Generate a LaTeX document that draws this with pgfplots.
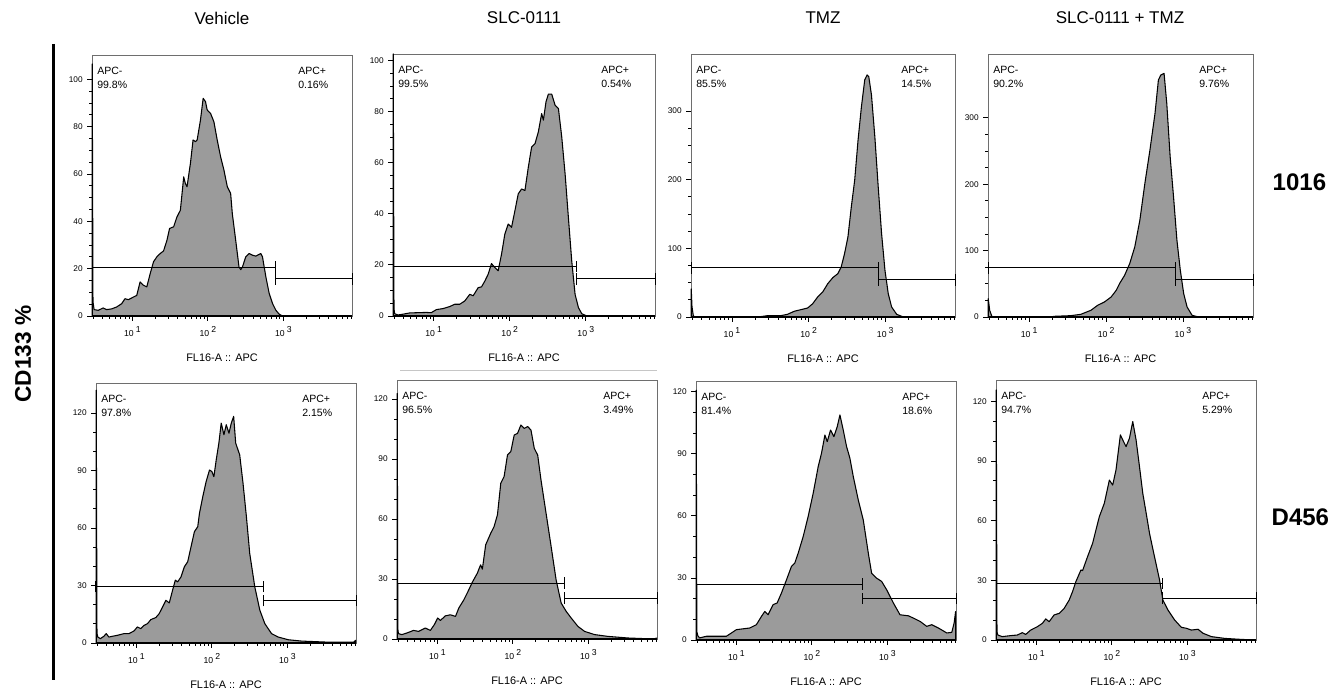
\documentclass[border=0pt]{standalone}
\usepackage{fontspec}
\setmainfont{Liberation Sans}
\usepackage{pgfplots}
\pgfplotsset{compat=1.18}

\definecolor{histfill}{RGB}{155,155,155}
\definecolor{framegray}{RGB}{110,110,110}

\newcommand\ytf{\fontsize{6.2}{7}\selectfont}
\newcommand\xtf{\fontsize{6.5}{7.5}\selectfont}
\newcommand\lab{\fontsize{7.9}{9}\selectfont}
\newcommand\xlf{\fontsize{8.2}{9}\selectfont}
\newcommand\ttl{\fontsize{12.75}{15}\selectfont}
\newcommand\xl[1]{10\hspace{1.6pt}\raisebox{2.8pt}{#1}}

% range gates: APC- level, gate position (log10), APC+ level
\newcommand{\gates}[3]{%
  \draw[line width=0.75pt] (axis cs:0.465,#1) -- (axis cs:#2,#1);
  \draw[line width=0.75pt] ([yshift=-4.3pt]axis cs:0.465,#1) -- ([yshift=4.3pt]axis cs:0.465,#1);
  \draw[line width=0.75pt] ([yshift=-4.3pt]axis cs:#2,#1) -- ([yshift=4.3pt]axis cs:#2,#1);
  \draw[line width=0.75pt] (axis cs:#2,#3) -- (axis cs:3.91,#3);
  \draw[line width=0.75pt] ([yshift=-4.3pt]axis cs:#2,#3) -- ([yshift=4.3pt]axis cs:#2,#3);
  \draw[line width=0.75pt] ([yshift=-4.3pt]axis cs:3.91,#3) -- ([yshift=4.3pt]axis cs:3.91,#3);
}
\newcommand{\apc}[2]{%
  \node[anchor=base west,font=\lab,inner sep=0pt,xshift=3.75pt,yshift=-14.5pt] at (rel axis cs:0,1) {APC-};
  \node[anchor=base west,font=\lab,inner sep=0pt,xshift=3.75pt,yshift=-25pt] at (rel axis cs:0,1) {#1};
  \node[anchor=base west,font=\lab,inner sep=0pt,xshift=-40.5pt,yshift=-14.5pt] at (rel axis cs:1,1) {APC+};
  \node[anchor=base west,font=\lab,inner sep=0pt,xshift=-40.5pt,yshift=-25pt] at (rel axis cs:1,1) {#2};
}

\pgfplotsset{
  flow/.style={
    scale only axis, anchor=south west, clip=false,
    xmin=0.465, xmax=3.91,
    xtick={1,2,3},
    xticklabels={\xl{1},\xl{2},\xl{3}},
    minor xtick={0.477,0.602,0.699,0.778,0.845,0.903,0.954,
      1.301,1.477,1.602,1.699,1.778,1.845,1.903,1.954,
      2.301,2.477,2.602,2.699,2.778,2.845,2.903,2.954,
      3.301,3.477,3.602,3.699,3.778,3.845,3.903},
    xtick pos=bottom, ytick pos=left,
    tick align=outside,
    major tick length=3.5pt, minor tick length=2pt,
    tick style={black, line width=0.6pt},
    axis line style={draw=framegray, line width=0.6pt},
    xticklabel style={font=\xtf, yshift=-1pt},
    yticklabel style={font=\ytf},
    /pgf/number format/assume math mode=true,
    xlabel={FL16-A :: APC},
    xlabel style={font=\xlf, at={(axis description cs:0.5,0)}, anchor=center, yshift=-31pt},
    after end axis/.code={\draw[black,line width=1pt] (rel axis cs:0,0) -- (rel axis cs:1,0);},
  },
  hist/.style={draw=black, line width=0.8pt, fill=histfill, line join=round},
  top/.style={ytick={0,20,...,100}, minor y tick num=3},
  mid/.style={ytick={0,100,200,300}, minor y tick num=3},
  low/.style={ytick={0,30,...,120}, minor y tick num=2},
}

\begin{document}
\begin{tikzpicture}
\useasboundingbox (0,0) rectangle (1007.25pt,520.5pt);

\node[font=\ttl] at (166.5pt,507pt) {Vehicle};
\node[font=\ttl] at (393pt,507pt) {SLC-0111};
\node[font=\ttl] at (617.25pt,507pt) {TMZ};
\node[font=\ttl] at (840pt,507pt) {SLC-0111 + TMZ};

\draw[line width=2.25pt] (39.75pt,487.5pt) -- (39.75pt,10.5pt);
\node[font=\bfseries\fontsize{17}{20}\selectfont, rotate=90] at (17.25pt,255pt) {CD133 \%};
\node[anchor=west,font=\bfseries\fontsize{18}{21}\selectfont] at (951pt,384pt) {1016};
\node[anchor=west,font=\bfseries\fontsize{18}{21}\selectfont] at (950.25pt,132.75pt) {D456};
\draw[gray!45, line width=0.75pt] (300pt,243pt) -- (492.75pt,243pt);

% ---- 1016, Vehicle
\begin{axis}[flow, top, at={(69pt,283.5pt)}, width=195pt, height=195.75pt, ymin=0, ymax=110.3]
\addplot[hist] coordinates {(0.468,106.5) (0.478,6) (0.493,2.7) (0.547,2.4) (0.613,3.4) (0.658,2.7) (0.724,3.0) (0.791,3.8) (0.858,5.2) (0.902,7.3) (0.947,6.9) (1.013,8.0) (1.058,8.7) (1.102,14.4) (1.147,13.0) (1.191,12.3) (1.236,17.9) (1.280,22.9) (1.324,25.0) (1.369,26.4) (1.413,27.5) (1.458,32.0) (1.493,37.0) (1.547,37.7) (1.591,41.9) (1.636,44.7) (1.680,58.8) (1.702,56.0) (1.724,54.6) (1.769,64.5) (1.804,74.4) (1.836,73.7) (1.858,74.4) (1.902,82.8) (1.938,92.0) (1.969,90.6) (1.991,87.1) (2.036,85.6) (2.080,82.1) (2.124,74.4) (2.169,67.3) (2.213,61.7) (2.258,54.6) (2.302,51.8) (2.324,43.3) (2.369,32.0) (2.413,20.7) (2.436,19.6) (2.458,20.7) (2.502,25.0) (2.547,26.4) (2.591,25.7) (2.636,25.3) (2.658,25.7) (2.702,26.4) (2.724,25.0) (2.769,16.5) (2.813,9.5) (2.858,5.2) (2.902,2.4) (2.947,0.7) (2.991,0)} \closedcycle;
\gates{20.7}{2.902}{15.7}
\apc{99.8\%}{0.16\%}
\end{axis}

% ---- 1016, SLC-0111
\begin{axis}[flow, top, at={(294.75pt,283.5pt)}, width=196.5pt, height=196.5pt, ymin=0, ymax=102.5]
\addplot[hist] coordinates {(0.468,102.5) (0.478,3) (0.486,0.9) (0.53,0.4) (0.596,0.7) (0.684,1.2) (0.793,1.3) (0.903,1.4) (0.969,1.3) (1.035,2.5) (1.123,2.9) (1.211,3.7) (1.277,4.6) (1.343,4.6) (1.409,5.9) (1.475,8.5) (1.519,7.9) (1.585,11.1) (1.629,11.4) (1.673,13.7) (1.717,16.4) (1.760,20.5) (1.804,19.0) (1.848,17.7) (1.892,24.2) (1.936,32.1) (1.980,36.0) (2.024,34.7) (2.068,41.2) (2.112,47.8) (2.156,49.7) (2.200,49.1) (2.244,58.2) (2.288,66.1) (2.332,67.4) (2.376,72.0) (2.420,79.2) (2.442,76.6) (2.477,83.8) (2.508,86.8) (2.552,86.8) (2.596,82.5) (2.640,81.2) (2.684,70.0) (2.728,55.6) (2.771,38.6) (2.815,21.6) (2.859,8.5) (2.903,3.3) (2.947,0.9) (3.013,0)} \closedcycle;
\gates{19.4}{2.881}{14.5}
\apc{99.5\%}{0.54\%}
\end{axis}

% ---- 1016, TMZ
\begin{axis}[flow, mid, at={(518.25pt,282.75pt)}, width=198pt, height=197.25pt, ymin=0, ymax=383]
\addplot[hist] coordinates {(0.468,41) (0.478,15) (0.495,2) (0.51,0) (1.197,0) (1.373,0.5) (1.46,1.9) (1.636,1.9) (1.724,3.9) (1.811,8.3) (1.899,10.7) (1.987,13.1) (2.053,19.4) (2.118,29.2) (2.184,36.5) (2.250,48.6) (2.316,57.4) (2.382,63.2) (2.425,72.9) (2.469,92.4) (2.513,116.7) (2.557,160.4) (2.601,199.3) (2.645,257.7) (2.689,306.3) (2.732,345.2) (2.763,352.5) (2.785,350.0) (2.820,323.3) (2.864,262.5) (2.908,189.6) (2.952,121.5) (2.996,68.1) (3.039,34.0) (3.083,14.6) (3.149,3.9) (3.237,0)} \closedcycle;
\gates{71.5}{2.908}{54.0}
\apc{85.5\%}{14.5\%}
\end{axis}

% ---- 1016, SLC-0111 + TMZ
\begin{axis}[flow, mid, at={(741pt,282.75pt)}, width=198.75pt, height=197.25pt, ymin=0, ymax=396]
\addplot[hist] coordinates {(0.468,27.6) (0.487,10) (0.518,0) (1.298,0) (1.32,1.0) (1.539,2.0) (1.671,4.0) (1.803,10.1) (1.89,17.6) (1.978,22.6) (2.066,30.2) (2.132,40.2) (2.175,50.3) (2.241,62.8) (2.307,80.4) (2.373,105.5) (2.439,145.7) (2.504,201.0) (2.57,251.3) (2.636,306.5) (2.68,356.8) (2.711,364.3) (2.754,366.8) (2.789,321.6) (2.833,241.2) (2.877,180.9) (2.921,115.6) (2.965,70.4) (3.009,35.2) (3.053,15.1) (3.118,2.5) (3.206,0)} \closedcycle;
\gates{73.9}{2.908}{55.8}
\apc{90.2\%}{9.76\%}
\end{axis}

% ---- D456, Vehicle
\begin{axis}[flow, low, at={(72pt,38.25pt)}, width=195pt, height=195pt, ymin=0, ymax=135.7]
\addplot[hist] coordinates {(0.468,132) (0.478,5) (0.489,3.1) (0.524,2.3) (0.569,3.5) (0.6,4.9) (0.636,3.1) (0.68,3.5) (0.747,4.0) (0.836,4.9) (0.902,4.9) (0.969,6.3) (1.013,8.4) (1.058,7.5) (1.102,9.2) (1.147,10.1) (1.191,12.2) (1.258,13.3) (1.302,15.3) (1.347,18.8) (1.391,22.3) (1.436,20.9) (1.48,27.6) (1.516,32.8) (1.547,31.9) (1.591,34.5) (1.636,39.8) (1.68,42.4) (1.724,50.2) (1.769,58.1) (1.813,60.7) (1.836,67.7) (1.88,76.4) (1.924,84.2) (1.969,90.3) (2.0,89.5) (2.027,86.8) (2.058,95.6) (2.093,104.3) (2.124,114.8) (2.16,108.7) (2.191,113.9) (2.227,109.5) (2.258,114.8) (2.289,118.3) (2.316,104.3) (2.369,98.2) (2.413,83.4) (2.458,65.9) (2.502,46.7) (2.569,29.3) (2.636,17.1) (2.702,10.1) (2.791,4.9) (2.88,3.1) (3.013,1.7) (3.191,1.0) (3.502,0.5) (3.88,0.5) (3.905,1.4)} \closedcycle;
\gates{29.5}{2.689}{22.1}
\apc{97.8\%}{2.15\%}
\end{axis}

% ---- D456, SLC-0111
\begin{axis}[flow, low, at={(297.75pt,41.25pt)}, width=195pt, height=194.25pt, ymin=0, ymax=129.5]
\addplot[hist] coordinates {(0.468,122.8) (0.476,5) (0.484,2.7) (0.529,2.2) (0.596,3.0) (0.684,4.3) (0.751,3.8) (0.84,5.5) (0.907,4.3) (0.96,7.2) (1.004,10.5) (1.04,9.3) (1.107,11.6) (1.173,12.1) (1.24,11.3) (1.284,15.5) (1.351,19.6) (1.396,23.0) (1.462,28.3) (1.529,32.9) (1.573,37.1) (1.596,34.9) (1.64,47.1) (1.707,52.9) (1.751,56.2) (1.796,62.1) (1.84,77.9) (1.884,81.2) (1.929,92.0) (1.973,93.7) (2.018,102.0) (2.062,102.8) (2.107,107.0) (2.151,105.3) (2.196,106.2) (2.24,104.5) (2.284,95.3) (2.329,92.0) (2.373,79.5) (2.44,62.9) (2.507,46.3) (2.573,29.6) (2.64,18.0) (2.707,13.8) (2.773,10.5) (2.862,6.3) (2.951,3.8) (3.084,2.2) (3.262,1.3) (3.529,0.5) (3.87,0) (3.905,0.5)} \closedcycle;
\gates{28.0}{2.684}{20.5}
\apc{96.5\%}{3.49\%}
\end{axis}

% ---- D456, TMZ
\begin{axis}[flow, low, at={(522pt,40.5pt)}, width=195pt, height=194.25pt, ymin=0, ymax=125.2]
\addplot[hist] coordinates {(0.468,120.8) (0.476,4) (0.49,2.0) (0.513,1.0) (0.602,1.8) (0.69,1.8) (0.867,1.8) (0.934,3.4) (1.0,5.0) (1.066,5.3) (1.177,5.8) (1.265,7.4) (1.332,11.4) (1.376,13.8) (1.42,12.2) (1.487,17.1) (1.54,17.9) (1.597,22.7) (1.664,29.1) (1.73,35.6) (1.774,37.2) (1.819,42.0) (1.885,50.0) (1.951,59.7) (2.018,71.0) (2.084,83.8) (2.128,90.3) (2.173,99.1) (2.204,95.9) (2.248,101.5) (2.292,98.3) (2.336,103.1) (2.372,108.8) (2.416,101.5) (2.46,93.5) (2.504,87.9) (2.549,79.0) (2.615,67.7) (2.681,58.1) (2.748,42.0) (2.792,32.3) (2.858,29.9) (2.925,28.3) (2.991,24.3) (3.08,17.9) (3.168,12.2) (3.279,11.7) (3.345,10.6) (3.434,9.0) (3.522,6.6) (3.589,7.4) (3.677,5.8) (3.788,3.4) (3.854,3.7) (3.885,8.2) (3.905,13.8)} \closedcycle;
\gates{27.0}{2.673}{20.1}
\apc{81.4\%}{18.6\%}
\end{axis}

% ---- D456, SLC-0111 + TMZ
\begin{axis}[flow, low, at={(747pt,40.5pt)}, width=195pt, height=195pt, ymin=0, ymax=130.7]
\addplot[hist] coordinates {(0.468,125.7) (0.478,4) (0.49,2.5) (0.548,1.7) (0.659,2.2) (0.747,2.5) (0.814,3.7) (0.858,2.8) (0.925,5.0) (1.013,6.7) (1.08,8.4) (1.124,10.6) (1.169,9.2) (1.235,12.6) (1.302,13.4) (1.368,15.9) (1.435,20.1) (1.479,24.3) (1.523,29.3) (1.59,35.2) (1.612,34.9) (1.678,41.9) (1.745,48.6) (1.789,55.3) (1.834,62.0) (1.9,68.7) (1.967,80.4) (2.011,77.9) (2.055,85.5) (2.113,103.1) (2.144,100.6) (2.188,97.2) (2.233,101.4) (2.277,109.8) (2.321,100.6) (2.366,87.2) (2.41,73.7) (2.455,63.7) (2.499,53.6) (2.565,41.9) (2.632,30.2) (2.676,20.1) (2.743,15.1) (2.831,10.1) (2.92,6.4) (2.987,5.9) (3.053,5.0) (3.142,5.4) (3.208,3.4) (3.319,1.7) (3.497,0.8) (3.718,0.3) (3.9,0)} \closedcycle;
\gates{28.5}{2.676}{21.0}
\apc{94.7\%}{5.29\%}
\end{axis}
\end{tikzpicture}
\end{document}
